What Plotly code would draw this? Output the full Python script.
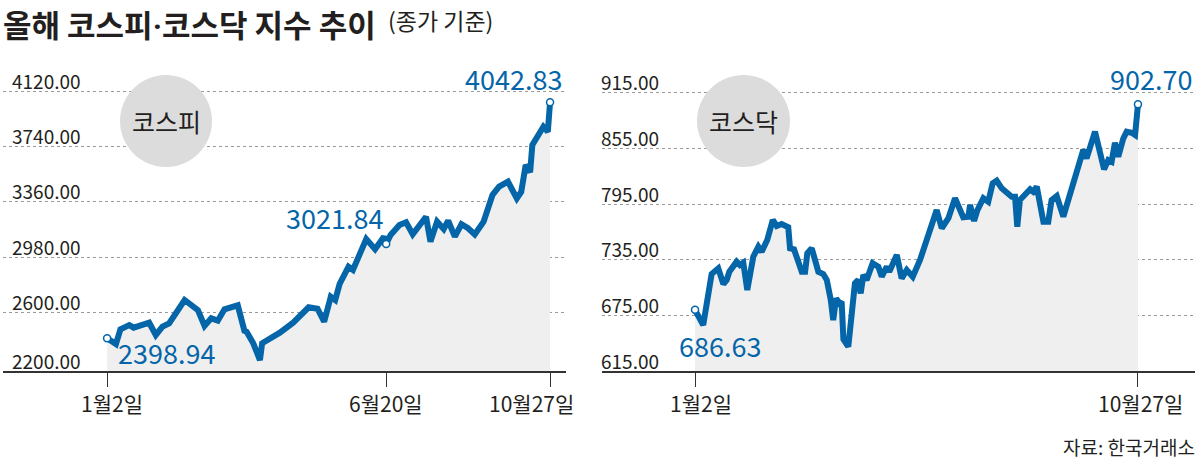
import plotly.graph_objects as go

W, H = 1200, 459

# ---------------- data ----------------
# x = trading-session position between 1월2일 (0) and 10월27일 (200)
kospi_day = [0, 4, 6, 10, 12, 19, 22, 25, 28, 35, 41, 44, 47, 50, 53, 59, 62, 63, 66, 69,
             70, 78, 84, 91, 95, 98, 101, 103, 105, 109, 111, 117, 121, 125, 126, 128, 132, 135, 138, 144,
             146, 149, 152, 154, 157, 160, 163, 166, 170, 174, 177, 181, 185, 187, 189, 191, 192, 195, 197, 199,
             200]
kospi_close = [2425, 2385, 2486, 2515, 2497, 2531, 2447, 2504, 2527, 2687, 2618, 2509, 2561, 2545, 2623,
               2650, 2476, 2469, 2390, 2275, 2390, 2463, 2531, 2637, 2627, 2538, 2709, 2687, 2797, 2915,
               2893, 3105, 3035, 3121, 3071, 3133, 3201, 3220, 3137, 3258, 3087, 3224, 3174, 3231, 3121,
               3206, 3179, 3137, 3224, 3407, 3464, 3498, 3384, 3429, 3613, 3563, 3750, 3818, 3875, 3841,
               4042.83]

kosdaq_day = [0, 3.7, 7.5, 10.5, 12.8, 14.3, 15.5, 18.8, 20.3, 21.8, 23.6, 26.3, 28.6, 30.1, 32.6,
              35.1, 36.9, 39.1, 42.1, 42.9, 44.7, 46.2, 48.2, 49.7, 50.7, 52.7, 53.7, 55.7, 57.9, 59.5,
              61.3, 62.4, 63.7, 65.2, 66.2, 67.0, 69.2, 70.7, 72.2, 73.7, 74.8, 76.0, 77.5, 80.2, 82.8,
              84.3, 86.6, 87.7, 91.1, 93.3, 95.6, 98.3, 101.6, 109.1, 111.4, 114.4, 117.4, 121.1, 123.4, 124.2,
              126.0, 127.5, 130.2, 132.4, 134.4, 136.2, 138.5, 143.0, 144.5, 145.5, 146.7, 151.3, 152.7, 154.3, 157.3,
              159.5, 161.0, 163.3, 166.3, 175.3, 176.8, 180.6, 182.9, 184.7, 186.6, 188.1, 189.6, 191.1, 193.4, 194.9,
              197.2, 198.7, 200]
kosdaq_close = [681, 664.6, 719.7, 725.8, 708.9, 713.2, 722.1, 733.0, 729.4, 731.9, 702.4, 738.3, 749.1, 743.7, 756.4,
                778.0, 771.5, 773.6, 770.1, 747.4, 746.3, 734.8, 722.1, 722.1, 742.0, 747.4, 738.3, 722.1, 719.7, 713.2,
                691.6, 670.0, 693.4, 688.1, 689.8, 649.2, 641.2, 684.4, 709.6, 713.2, 698.8, 718.6, 713.2, 731.2, 727.5,
                716.8, 727.5, 722.1, 740.2, 715.0, 724.0, 716.8, 734.8, 788.7, 769.0, 779.8, 801.4, 780.9, 781.5, 794.1,
                776.9, 788.7, 801.4, 797.7, 817.5, 820.3, 812.1, 803.1, 803.1, 770.7, 799.5, 811.1, 808.5, 813.9, 776.1,
                776.1, 799.5, 803.8, 781.5, 853.5, 844.5, 873.2, 849.9, 832.6, 842.7, 840.9, 861.4, 846.3, 866.1, 873.2,
                872.1, 869.7, 902.70]

kospi_grid = [2200, 2600, 2980, 3360, 3740, 4120]
kospi_grid_text = ["2200.00", "2600.00", "2980.00", "3360.00", "3740.00", "4120.00"]
kosdaq_grid = [615, 675, 735, 795, 855, 915]
kosdaq_grid_text = ["615.00", "675.00", "735.00", "795.00", "855.00", "915.00"]

kospi_xticks = [0, 126, 200]
kospi_xtext = ["1월2일", "6월20일", "10월27일"]
kosdaq_xticks = [0, 200]
kosdaq_xtext = ["1월2일", "10월27일"]

kospi_marks = [0, 34, 60]
kospi_mark_text = ["2398.94", "3021.84", "4042.83"]
kosdaq_marks = [0, 92]
kosdaq_mark_text = ["686.63", "902.70"]

title_parts = ["올해 코스피", "·", "코스닥 지수 추이"]
title_sub = "(종가 기준)"
source_text = "자료: 한국거래소"

# ---------------- styles ----------------
BLUE = "#0565a9"
FILL = "#efefef"
TXT = "#231f20"
FONT = "Noto Sans CJK KR"


def fx(p):
    return p / W


def fy(p):
    return 1 - p / H


fig = go.Figure()

for day, close, xa, ya, marks in [
    (kospi_day, kospi_close, "x", "y", kospi_marks),
    (kosdaq_day, kosdaq_close, "x2", "y2", kosdaq_marks),
]:
    fig.add_trace(go.Scatter(x=day, y=close, mode="lines", xaxis=xa, yaxis=ya,
                             line=dict(color=BLUE, width=6), fill="tozeroy",
                             fillcolor=FILL, hoverinfo="skip"))
    fig.add_trace(go.Scatter(x=[day[i] for i in marks], y=[close[i] for i in marks],
                             mode="markers", xaxis=xa, yaxis=ya,
                             marker=dict(size=7, color="white", line=dict(color=BLUE, width=1.5)),
                             hoverinfo="skip"))

ydom = [fy(371), fy(80)]
axis_common = dict(showgrid=False, zeroline=False, showline=True, linecolor="#333333",
                   linewidth=1.5, ticks="outside", ticklen=14, tickwidth=1.2,
                   tickcolor="#333333", showticklabels=False, fixedrange=True)
yaxis_common = dict(showgrid=True, gridcolor="#9a9a9a", griddash="dot", gridwidth=1,
                    zeroline=False, showline=False, showticklabels=False, ticks="",
                    domain=ydom, fixedrange=True)

fig.update_layout(
    width=W, height=H, margin=dict(l=0, r=0, t=0, b=0),
    paper_bgcolor="white", plot_bgcolor="white", showlegend=False,
    font=dict(family=FONT, color=TXT),
    xaxis=dict(domain=[fx(3), fx(566)], range=[-47.0, 207.2], tickvals=kospi_xticks, **axis_common),
    xaxis2=dict(domain=[fx(602), fx(1195)], range=[-42.0, 225.75], tickvals=kosdaq_xticks,
                anchor="y2", **axis_common),
    yaxis=dict(range=[2200, 4195.4], tickvals=kospi_grid[1:], anchor="x", **yaxis_common),
    yaxis2=dict(range=[615, 929.0], tickvals=kosdaq_grid[1:], anchor="x2", **yaxis_common),
)

# gray badges
for x0, x1, label, cx in [(120, 212, "코스피", 166), (697, 790, "코스닥", 743.5)]:
    fig.add_shape(type="circle", xref="paper", yref="paper", x0=fx(x0), x1=fx(x1),
                  y0=fy(167), y1=fy(75), fillcolor="#dcdcdc", line=dict(width=0), layer="above")
    fig.add_annotation(text=label, xref="paper", yref="paper", x=fx(cx), y=fy(121),
                       showarrow=False, font=dict(size=25, color=TXT, family=FONT),
                       xanchor="center", yanchor="middle")

ann = []
# y tick labels above gridlines
for v, t in zip(kospi_grid, kospi_grid_text):
    ann.append(dict(text=t, xref="paper", yref="y", x=fx(83), y=v, yshift=11,
                    xanchor="right", yanchor="middle", showarrow=False,
                    font=dict(size=19, color=TXT)))
for v, t in zip(kosdaq_grid, kosdaq_grid_text):
    ann.append(dict(text=t, xref="paper", yref="y2", x=fx(599), y=v, yshift=11,
                    xanchor="left", yanchor="middle", showarrow=False,
                    font=dict(size=19, color=TXT)))
# x tick labels
for d, t, sh in zip(kospi_xticks, kospi_xtext, [5, 0, -19]):
    ann.append(dict(text=t, xref="x", yref="paper", x=d, y=fy(403), xshift=sh,
                    xanchor="center", yanchor="middle", showarrow=False,
                    font=dict(size=21, color=TXT)))
for d, t, sh in zip(kosdaq_xticks, kosdaq_xtext, [6, 3]):
    ann.append(dict(text=t, xref="x2", yref="paper", x=d, y=fy(403), xshift=sh,
                    xanchor="center", yanchor="middle", showarrow=False,
                    font=dict(size=21, color=TXT)))
# value labels
val_pos = [(116, 352, "left"), (385, 218, "right"), (564, 78, "right")]
for (px, py, xa), t in zip(val_pos, kospi_mark_text):
    ann.append(dict(text=t, xref="paper", yref="paper", x=fx(px), y=fy(py), xanchor=xa,
                    yanchor="middle", showarrow=False, font=dict(size=27, color=BLUE)))
val_pos2 = [(677, 345, "left"), (1194, 78, "right")]
for (px, py, xa), t in zip(val_pos2, kosdaq_mark_text):
    ann.append(dict(text=t, xref="paper", yref="paper", x=fx(px), y=fy(py), xanchor=xa,
                    yanchor="middle", showarrow=False, font=dict(size=27, color=BLUE)))
# titles / source
title_html = ("<b>" + title_parts[0]
              + "<span style='font-family:Roboto'>" + title_parts[1] + "</span>"
              + title_parts[2] + "</b>")
ann.append(dict(text=title_html, xref="paper", yref="paper", x=fx(2), y=1,
                xanchor="left", yanchor="top", showarrow=False, borderpad=0,
                font=dict(size=31, color=TXT)))
ann.append(dict(text=title_sub, xref="paper", yref="paper", x=fx(387), y=fy(20),
                xanchor="left", yanchor="middle", showarrow=False, borderpad=0,
                font=dict(size=23, color=TXT)))
ann.append(dict(text=source_text, xref="paper", yref="paper", x=fx(1196), y=fy(446),
                xanchor="right", yanchor="middle", showarrow=False, borderpad=0,
                font=dict(size=19, color=TXT)))

for a in ann:
    fig.add_annotation(**a)

fig.write_html("out.html", config={"displayModeBar": False},
               post_script="document.body.style.margin='0';document.body.style.overflow='hidden';")
